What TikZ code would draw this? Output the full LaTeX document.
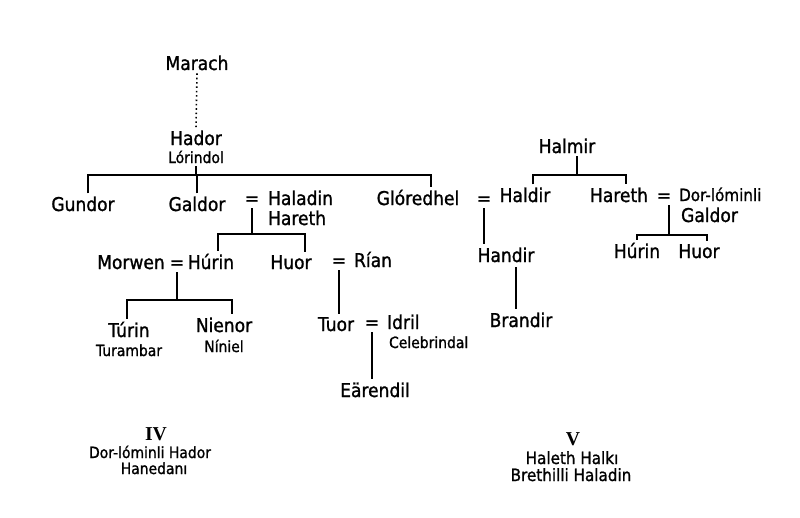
\documentclass[tikz,border=0pt]{standalone}
\usepackage{fontspec}
\setmainfont{DejaVu Sans}[FakeStretch=0.9, FakeBold=1.2]
\newfontfamily\romanfont{Liberation Serif}
\usepackage{tikz}
\usetikzlibrary{positioning}
\tikzset{
    person/.style={font=\fontsize{13.5}{15}\selectfont, inner sep=2pt, anchor=base},
    epithet/.style={font=\fontsize{11}{12}\selectfont, inner sep=2pt, anchor=base},
    wed/.style={font=\fontsize{13.5}{15}\selectfont, inner sep=2pt, anchor=base},
    caption/.style={font=\fontsize{12}{13}\selectfont, anchor=base, inner sep=0pt},
    numeral/.style={font=\romanfont\bfseries\fontsize{14}{16}\selectfont, anchor=base, inner sep=0pt},
    kin/.style={line width=0.9pt},
    descent/.style={line width=1.1pt, dotted}
}

\begin{document}
\begin{tikzpicture}[x=0.025cm, y=-0.025cm]
    \useasboundingbox (0,0) rectangle (800,518);

    % House of Hador
    \node[person] (marach) at (197,70) {Marach};
    \node[person] (hador) at (196,145) {Hador};
    \node[epithet] (lorindol) at (196,163) {Lórindol};
    \node[person] (gundor) at (83,211) {Gundor};
    \node[person] (galdor) at (197,211) {Galdor};
    \node[wed] (eqHaladin) at (252,205) {=};
    \node[person, anchor=base west] (haladin) at (265,205) {Haladin};
    \node[person, anchor=base west] (hareth) at (265,225) {Hareth};
    \node[person] (glor) at (418,205) {Glóredhel};

    % Children of Galdor
    \node[person] (morwen) at (131,269) {Morwen};
    \node[wed] (eqMorwen) at (177,269) {=};
    \node[person] (hurin) at (211,269) {Húrin};
    \node[person] (huor) at (291,269) {Huor};
    \node[wed] (eqRian) at (339,267) {=};
    \node[person, anchor=base west] (rian) at (351,267) {Rían};

    % Children of Húrin
    \node[person] (turin) at (129,337) {Túrin};
    \node[epithet] (turambar) at (129,356) {Turambar};
    \node[person] (nienor) at (224,332) {Nienor};
    \node[epithet] (niniel) at (224,352) {Níniel};

    % Tuor and Idril
    \node[person] (tuor) at (336,331) {Tuor};
    \node[wed] (eqIdril) at (372,329) {=};
    \node[person, anchor=base west] (idril) at (384,329) {Idril};
    \node[epithet, anchor=base west] (celeb) at (386,348) {Celebrindal};
    \node[person] (earendil) at (375,397) {Eärendil};

    % House of Haleth
    \node[person] (halmir) at (567,153) {Halmir};
    \node[wed] (eqGlor) at (484,205) {=};
    \node[person] (haldir) at (525,202) {Haldir};
    \node[person] (harethR) at (619,202) {Hareth};
    \node[wed] (eqHareth) at (664,202) {=};
    \node[epithet, font=\fontsize{12}{13}\selectfont, anchor=base west] (dorlom) at (676,201) {Dor-lóminli};
    \node[person, anchor=base west] (galdorR) at (678,222) {Galdor};
    \node[person] (hurinR) at (637,258) {Húrin};
    \node[person] (huorR) at (699,258) {Huor};
    \node[person] (handir) at (506,262) {Handir};
    \node[person] (brandir) at (521,327) {Brandir};

    % Captions
    \node[numeral] (numIV) at (156,440) {IV};
    \node[caption, font=\fontsize{11}{12}\selectfont] (capIVa) at (150,458) {Dor-lóminli Hador};
    \node[caption, font=\fontsize{11}{12}\selectfont] (capIVb) at (154,474) {Hanedanı};
    \node[numeral] (numV) at (573,445) {V};
    \node[caption] (capVa) at (572,464) {Haleth Halkı};
    \node[caption] (capVb) at (571,481) {Brethilli Haladin};

    % Junctions
    \coordinate (hadorBarL) at (88,175);
    \coordinate (hadorBarR) at (431,175);
    \coordinate (galdorBarL) at (218,234);
    \coordinate (galdorBarR) at (305,234);
    \coordinate (hurinBarL) at (127,300);
    \coordinate (hurinBarR) at (232,300);
    \coordinate (halmirBarJ) at (577,175);
    \coordinate (halmirBarL) at (533,175);
    \coordinate (halmirBarR) at (626,175);
    \coordinate (harethBarJ) at (669,235);
    \coordinate (harethBarL) at (637,235);
    \coordinate (harethBarR) at (707,235);
    \coordinate (handirJ) at (516,267);

    % Lines of descent
    \draw[descent] (marach.south) -- (hador.north);
    \draw[kin] (lorindol.south) -- (lorindol.south |- hadorBarL);
    \draw[kin] (gundor.north -| hadorBarL) |- (hadorBarR) -- (glor.north -| hadorBarR);
    \draw[kin] (galdor.north) -- (galdor.north |- hadorBarL);
    \draw[kin] (eqHaladin.south) -- (eqHaladin.south |- galdorBarL);
    \draw[kin] (hurin.north -| galdorBarL) |- (galdorBarR) -- (huor.north -| galdorBarR);
    \draw[kin] (eqMorwen.south) -- (eqMorwen.south |- hurinBarL);
    \draw[kin] (turin.north -| hurinBarL) |- (hurinBarR) -- (nienor.north -| hurinBarR);
    \draw[kin] (eqRian.south) -- (eqRian.south |- tuor.north);
    \draw[kin] (eqIdril.south) -- (eqIdril.south |- earendil.north);
    \draw[kin] (halmir.south -| halmirBarJ) -- (halmirBarJ);
    \draw[kin] (haldir.north -| halmirBarL) |- (halmirBarR) -- (harethR.north -| halmirBarR);
    \draw[kin] (eqGlor.south) -- (eqGlor.south |- handir.north);
    \draw[kin] (handirJ) -- (brandir.north -| handirJ);
    \draw[kin] (eqHareth.south -| harethBarJ) -- (harethBarJ);
    \draw[kin] (hurinR.north -| harethBarL) |- (harethBarR) -- (huorR.north -| harethBarR);
\end{tikzpicture}
\end{document}
